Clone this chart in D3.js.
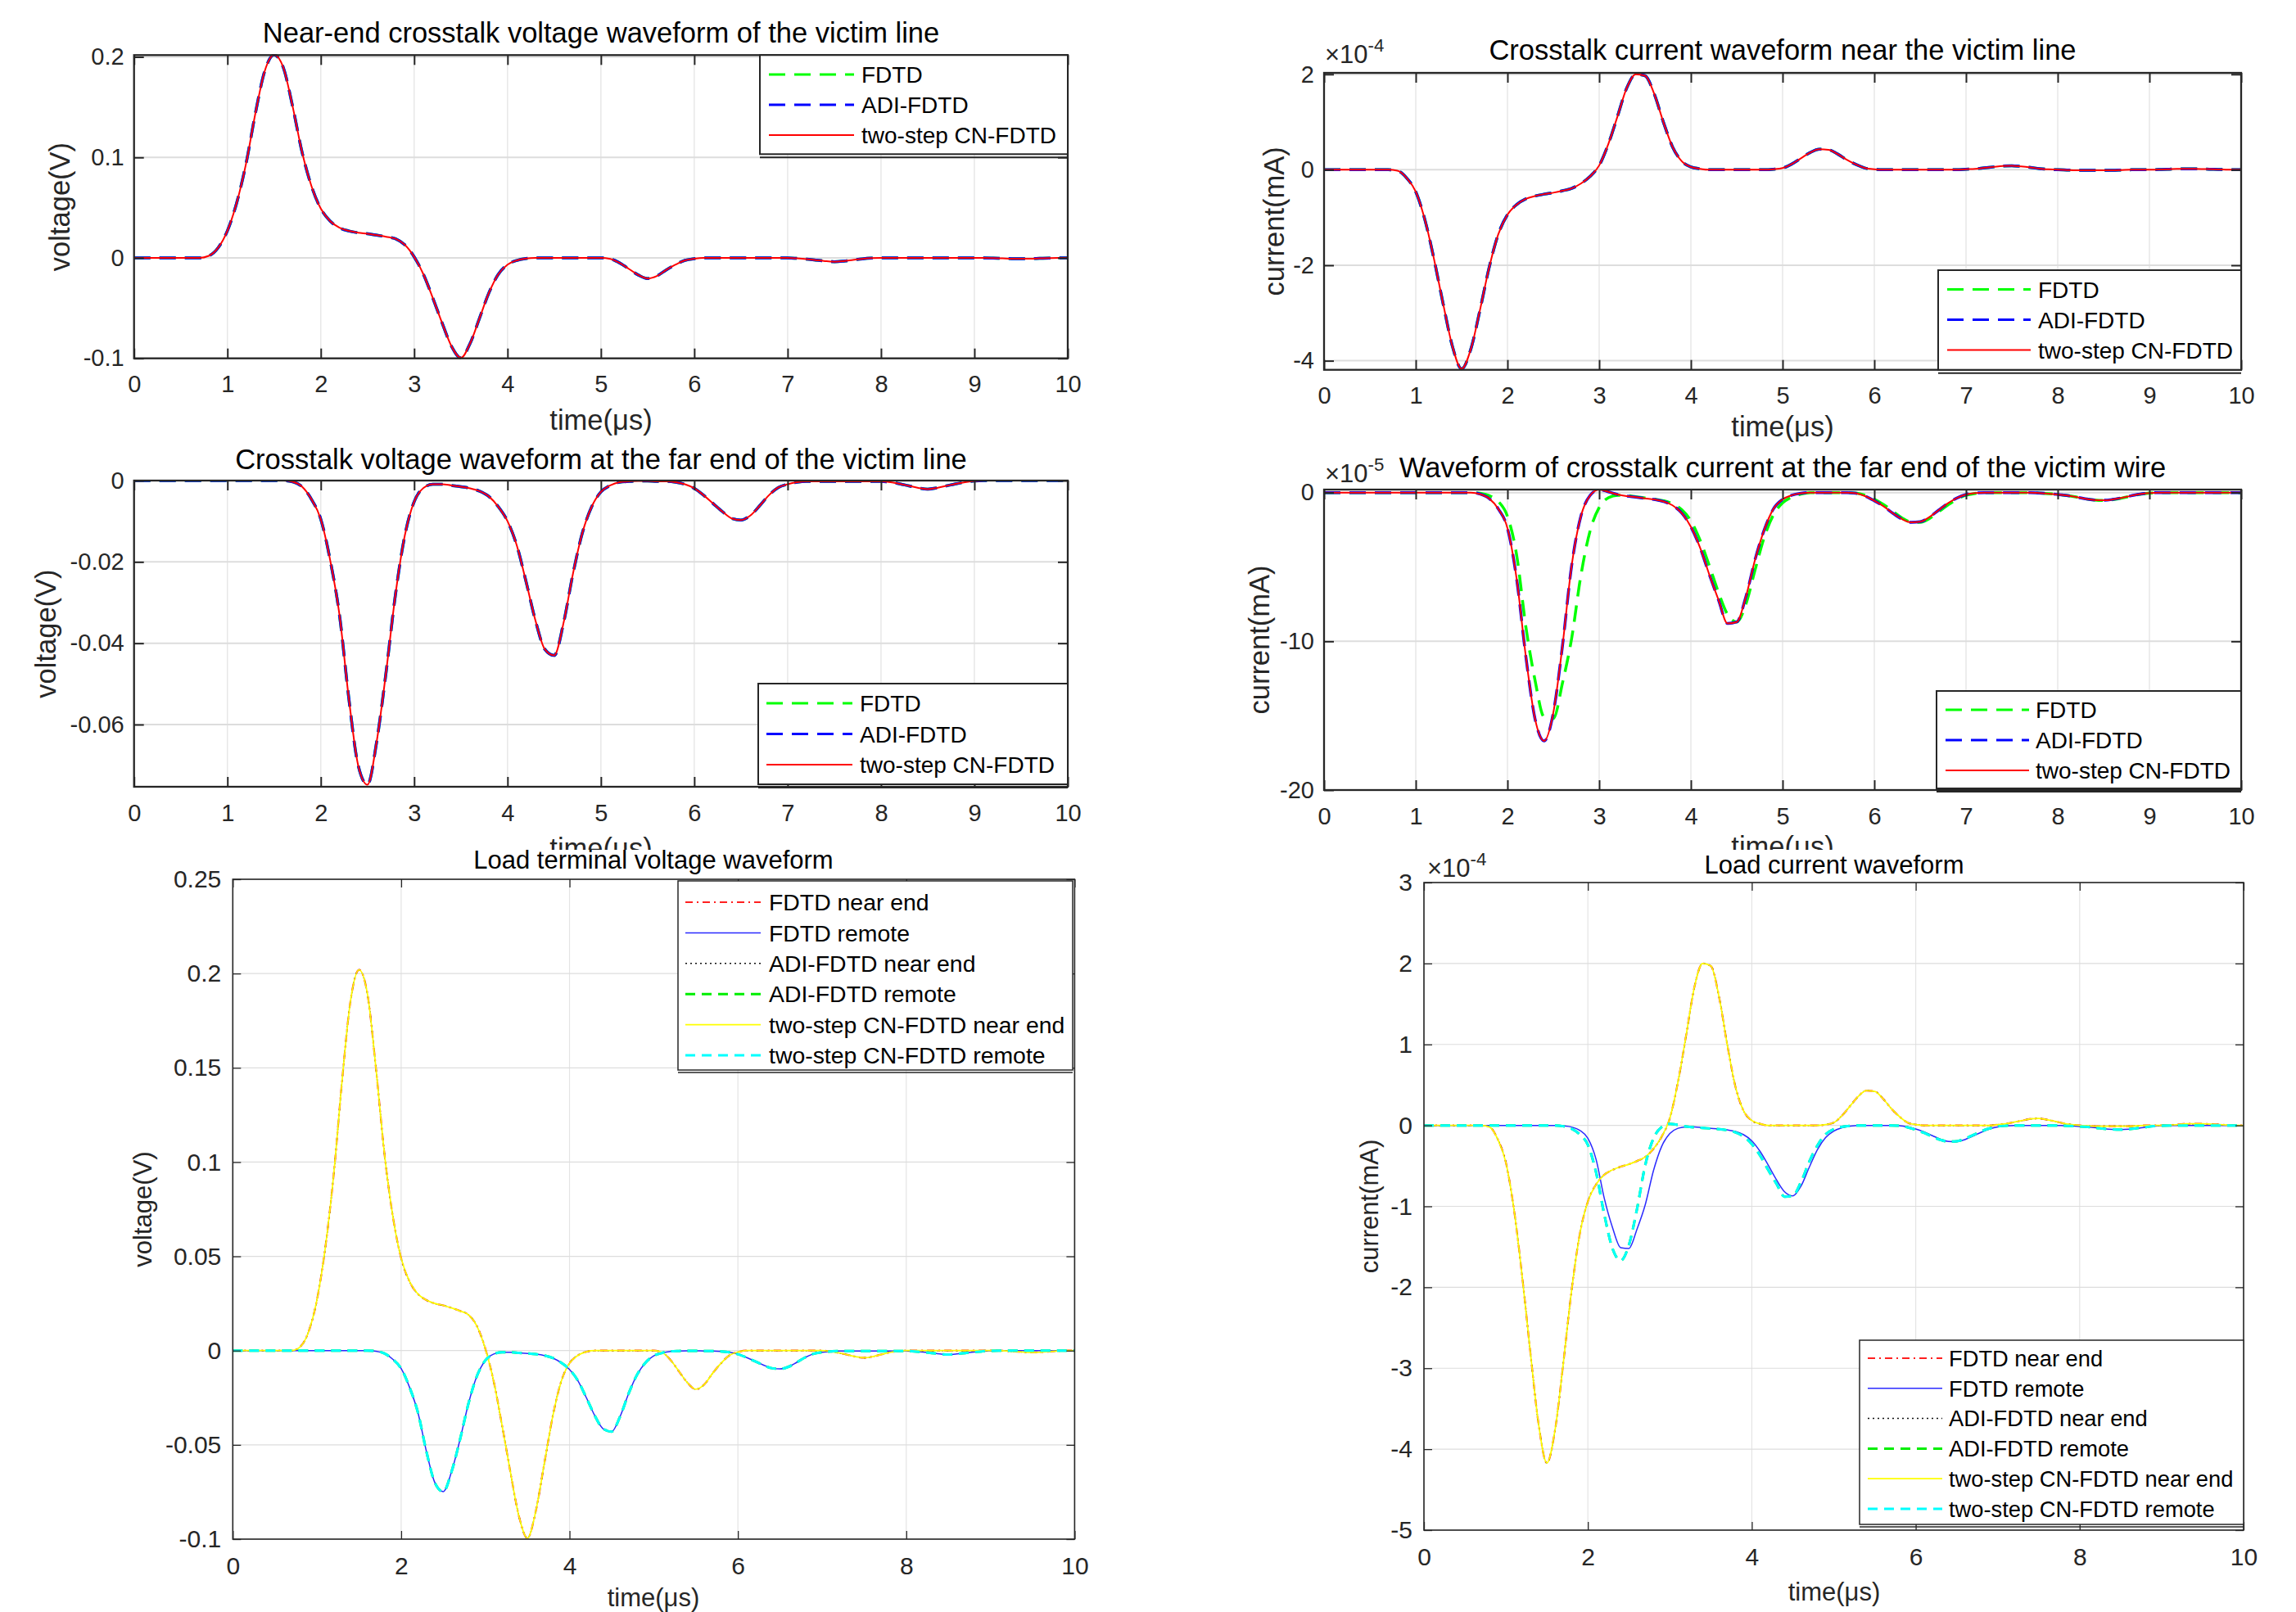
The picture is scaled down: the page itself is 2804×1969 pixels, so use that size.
<!DOCTYPE html>
<html lang="en">

<head>
  <meta charset="UTF-8" />
  <title>crosstalk waveforms</title>
  <style>
    body {
      margin: 0;
      background: #fff;
    }

    svg {
      display: block;
    }
  </style>
</head>

<body>
  <div id="container"></div>
  <script src="https://cdn.jsdelivr.net/npm/d3@7"></script>
  <script>
    // sample times (μs)
    const time = [
      0, 0.1, 0.2, 0.3, 0.4, 0.5, 0.6, 0.7, 0.8, 0.9,
      1, 1.1, 1.2, 1.3, 1.4, 1.5, 1.6, 1.7, 1.8, 1.9,
      2, 2.1, 2.2, 2.3, 2.4, 2.5, 2.6, 2.7, 2.8, 2.9,
      3, 3.1, 3.2, 3.3, 3.4, 3.5, 3.6, 3.7, 3.8, 3.9,
      4, 4.1, 4.2, 4.3, 4.4, 4.5, 4.6, 4.7, 4.8, 4.9,
      5, 5.1, 5.2, 5.3, 5.4, 5.5, 5.6, 5.7, 5.8, 5.9,
      6, 6.1, 6.2, 6.3, 6.4, 6.5, 6.6, 6.7, 6.8, 6.9,
      7, 7.1, 7.2, 7.3, 7.4, 7.5, 7.6, 7.7, 7.8, 7.9,
      8, 8.1, 8.2, 8.3, 8.4, 8.5, 8.6, 8.7, 8.8, 8.9,
      9, 9.1, 9.2, 9.3, 9.4, 9.5, 9.6, 9.7, 9.8, 9.9,
      10
    ];

    // near-end crosstalk voltage (V)
    const nearVoltage = [
      0, 0, 0, 0, 0, 0, 0, 0, 0.002, 0.010,
      0.027, 0.055, 0.094, 0.144, 0.186, 0.202, 0.189, 0.150, 0.105, 0.0715,
      0.049, 0.0366, 0.030, 0.0268, 0.025, 0.024, 0.0226, 0.021, 0.019, 0.013,
      0.001, -0.0165, -0.040, -0.065, -0.088, -0.0995, -0.085, -0.060, -0.035, -0.0165,
      -0.0067, -0.0025, -0.0006, 0, 0, 0, 0, 0, 0, 0,
      0, -0.001, -0.005, -0.011, -0.017, -0.0205, -0.018, -0.012, -0.0067, -0.0025,
      -0.0008, 0, 0, 0, 0, 0, 0, 0, 0, 0,
      0, -0.0005, -0.0012, -0.0022, -0.0032, -0.0038, -0.0032, -0.0021, -0.001, -0.0003,
      0, 0, 0, 0, 0, 0, 0, 0, 0, 0,
      0, 0, -0.0002, -0.0005, -0.0008, -0.0009, -0.0008, -0.0005, -0.0002, 0,
      0
    ];

    // far-end crosstalk voltage (V)
    const farVoltage = [
      0, 0, 0, 0, 0, 0, 0, 0, 0, 0,
      0, 0, 0, 0, 0, 0, 0, -0.0003, -0.0015, -0.0046,
      -0.0095, -0.0195, -0.033, -0.0535, -0.070, -0.0748, -0.064, -0.047, -0.028, -0.0135,
      -0.0052, -0.0018, -0.0009, -0.0009, -0.0012, -0.0015, -0.0019, -0.0026, -0.0039, -0.0064,
      -0.0100, -0.0160, -0.0250, -0.0345, -0.0415, -0.0430, -0.0350, -0.0230, -0.0130, -0.0065,
      -0.0028, -0.0012, -0.0004, -0.0002, -0.0001, -0.0001, -0.0002, -0.0002, -0.0004, -0.0009,
      -0.0019, -0.0036, -0.0056, -0.0076, -0.0093, -0.0097, -0.0086, -0.0062, -0.0036, -0.0017,
      -0.0009, -0.0004, -0.0002, -0.0002, -0.0002, -0.0002, -0.0002, -0.0002, -0.0002, -0.0002,
      -0.0002, -0.0004, -0.0008, -0.0013, -0.0018, -0.0021, -0.0018, -0.0013, -0.0008, -0.0004,
      -0.0001, 0, 0, 0, 0, 0, 0, 0, 0, 0,
      0
    ];

    // near-end crosstalk current (x1e-4 mA)
    const nearCurrent = [
      0, 0, 0, 0, 0, 0, 0, 0, -0.02, -0.17,
      -0.46, -1.05, -1.88, -2.82, -3.7, -4.17, -3.76, -2.94, -2.05, -1.35,
      -0.94, -0.73, -0.61, -0.55, -0.51, -0.48, -0.44, -0.39, -0.29, -0.14,
      0.09, 0.54, 1.12, 1.71, 2.0, 1.97, 1.59, 1.0, 0.48, 0.18,
      0.06, 0.02, 0, 0, 0, 0, 0, 0, 0, 0.01,
      0.035, 0.12, 0.24, 0.36, 0.43, 0.42, 0.33, 0.21, 0.11, 0.035,
      0.01, 0, 0, 0, 0, 0, 0, 0, 0, 0,
      0.01, 0.02, 0.04, 0.06, 0.08, 0.085, 0.07, 0.05, 0.025, 0.01,
      0, -0.005, -0.01, -0.01, -0.01, -0.01, -0.01, -0.005, 0, 0,
      0, 0.005, 0.01, 0.02, 0.02, 0.02, 0.015, 0.01, 0.005, 0,
      0
    ];

    // far-end crosstalk current, ADI-FDTD / two-step CN-FDTD (x1e-5 mA)
    const farCurrent = [
      0, 0, 0, 0, 0, 0, 0, 0, 0, 0,
      0, 0, 0, 0, 0, 0, 0, -0.1, -0.4, -1.1,
      -2.4, -5.8, -11.0, -15.2, -16.7, -14.8, -10.3, -4.9, -1.6, -0.2,
      0.2, 0.05, -0.13, -0.24, -0.31, -0.39, -0.46, -0.6, -0.86, -1.38,
      -2.3, -3.7, -5.5, -7.2, -8.8, -8.7, -7.0, -4.5, -2.5, -1.1,
      -0.46, -0.18, -0.05, 0, 0, 0, 0, 0, -0.05, -0.24,
      -0.55, -0.92, -1.38, -1.78, -2.0, -1.96, -1.65, -1.19, -0.73, -0.37,
      -0.13, -0.04, 0, 0, 0, 0, 0, 0, -0.03, -0.07,
      -0.13, -0.2, -0.3, -0.42, -0.5, -0.52, -0.46, -0.35, -0.22, -0.1,
      -0.03, 0, 0, 0, 0, 0, 0, 0, 0, 0,
      0
    ];

    // far-end crosstalk current, FDTD (x1e-5 mA)
    const farCurrentFDTD = [
      0, 0, 0, 0, 0, 0, 0, 0, 0, 0,
      0, 0, 0, 0, 0, 0, 0, -0.05, -0.2, -0.6,
      -1.6, -4.2, -9.0, -12.6, -15.1, -15.2, -12.8, -9.8, -5.6, -2.6,
      -1.0, -0.35, -0.18, -0.2, -0.28, -0.36, -0.44, -0.55, -0.75, -1.15,
      -1.9, -3.2, -4.9, -6.7, -8.2, -8.7, -7.5, -5.2, -3.0, -1.5,
      -0.7, -0.3, -0.1, 0, 0, 0, 0, 0, -0.03, -0.18,
      -0.45, -0.8, -1.25, -1.7, -1.98, -2.0, -1.75, -1.3, -0.85, -0.45,
      -0.18, -0.06, 0, 0, 0, 0, 0, 0, -0.03, -0.07,
      -0.13, -0.2, -0.3, -0.42, -0.5, -0.53, -0.48, -0.37, -0.24, -0.12,
      -0.04, 0, 0, 0, 0, 0, 0, 0, 0, 0,
      0
    ];

    const xTicksTop = [0, 1, 2, 3, 4, 5, 6, 7, 8, 9, 10];
    const xTicksBottom = [0, 2, 4, 6, 8, 10];
    const yTicksNearV = [-0.1, 0, 0.1, 0.2];
    const yTicksNearI = [-4, -2, 0, 2];
    const yTicksFarV = [-0.06, -0.04, -0.02, 0];
    const yTicksFarI = [-20, -10, 0];
    const yTicksLoadV = [-0.1, -0.05, 0, 0.05, 0.1, 0.15, 0.2, 0.25];
    const yTicksLoadI = [-5, -4, -3, -2, -1, 0, 1, 2, 3];

    const methodNames = ['FDTD', 'ADI-FDTD', 'two-step CN-FDTD'];
    const loadNames = ['FDTD near end', 'FDTD remote', 'ADI-FDTD near end', 'ADI-FDTD remote',
      'two-step CN-FDTD near end', 'two-step CN-FDTD remote'];

    const FONT = '"Liberation Sans", Arial, Helvetica, sans-serif';
    const INK = '#262626';

    const methodStyles = [
      { color: '#00ff00', width: 3.5, dash: '20,11' },
      { color: '#0000ff', width: 3.5, dash: '20,11' },
      { color: '#ff0000', width: 2, dash: null }
    ];
    const loadStyles = [
      { color: '#ff2020', width: 2.2, dash: '9,5,2,5' },
      { color: '#2a2aff', width: 1.5, dash: null },
      { color: '#111111', width: 1.5, dash: '2,4' },
      { color: '#00ee00', width: 3, dash: '12,8' },
      { color: '#ffff00', width: 1.7, dash: null },
      { color: '#00ffff', width: 3, dash: '12,8' }
    ];

    const topLook = { title: 34.5, label: 34.5, tick: 29, legend: 28, expo: 31, tickLen: 12, tickW: 2, box: 2.3,
      gridH: 2, gridV: 1.3, xPad: 21, yPad: 12, legendW: 2, shadow: 4 };
    const bottomLook = { title: 31, label: 31, tick: 30, legend: 28.4, expo: 31, tickLen: 10, tickW: 1.3, box: 1.6,
      gridH: 1.2, gridV: 1.2, xPad: 22, yPad: 14, legendW: 1.5, shadow: 3 };

    const svg = d3.select('#container').append('svg').attr('width', 2804).attr('height', 1969)
      .attr('font-family', FONT);

    // the lower pair of plots is pasted over the upper x labels
    svg.append('clipPath').attr('id', 'clip-upper').append('rect')
      .attr('x', 0).attr('y', 0).attr('width', 2804).attr('height', 1038);

    function drawPanel(p) {
      const s = p.look;
      const g = svg.append('g');
      const x = d3.scaleLinear().domain([0, 10]).range([p.box.l, p.box.r]);
      const y = d3.scaleLinear().domain(p.yDomain).range([p.box.b, p.box.t]);

      // grid
      g.append('g').selectAll('line').data(p.xTicks).join('line')
        .attr('x1', d => x(d)).attr('x2', d => x(d)).attr('y1', p.box.t).attr('y2', p.box.b)
        .attr('stroke', '#e4e4e4').attr('stroke-width', s.gridV);
      g.append('g').selectAll('line').data(p.yTicks).join('line')
        .attr('x1', p.box.l).attr('x2', p.box.r).attr('y1', d => y(d)).attr('y2', d => y(d))
        .attr('stroke', '#dddddd').attr('stroke-width', s.gridH);

      svg.append('clipPath').attr('id', 'clip-' + p.id).append('rect')
        .attr('x', p.box.l).attr('y', p.box.t - 1)
        .attr('width', p.box.r - p.box.l).attr('height', p.box.b - p.box.t + 2);

      const line = d3.line().x((d, i) => x(time[i])).y(d => y(d)).curve(d3.curveMonotoneX);
      g.append('g').attr('clip-path', `url(#clip-${p.id})`)
        .selectAll('path').data(p.series).join('path')
        .attr('d', d => line(d.values))
        .attr('fill', 'none')
        .attr('stroke', d => d.style.color)
        .attr('stroke-width', d => d.style.width)
        .attr('stroke-dasharray', d => d.style.dash)
        .attr('stroke-linejoin', 'round');

      // axes, ticks inward on all four sides
      const fmt = d => String(d);
      const styleAxis = (sel, labels) => {
        sel.select('.domain').remove();
        sel.attr('font-family', FONT).attr('font-size', s.tick).attr('color', INK);
        sel.selectAll('.tick line').attr('stroke-width', s.tickW);
        if (!labels) sel.selectAll('.tick text').remove();
      };
      g.append('g').attr('transform', `translate(0,${p.box.b})`)
        .call(d3.axisBottom(x).tickValues(p.xTicks).tickSizeInner(-s.tickLen).tickSizeOuter(0)
          .tickPadding(s.xPad).tickFormat(fmt))
        .call(sel => styleAxis(sel, true));
      g.append('g').attr('transform', `translate(0,${p.box.t})`)
        .call(d3.axisTop(x).tickValues(p.xTicks).tickSizeInner(-s.tickLen).tickSizeOuter(0))
        .call(sel => styleAxis(sel, false));
      g.append('g').attr('transform', `translate(${p.box.l},0)`)
        .call(d3.axisLeft(y).tickValues(p.yTicks).tickSizeInner(-s.tickLen).tickSizeOuter(0)
          .tickPadding(s.yPad).tickFormat(fmt))
        .call(sel => styleAxis(sel, true));
      g.append('g').attr('transform', `translate(${p.box.r},0)`)
        .call(d3.axisRight(y).tickValues(p.yTicks).tickSizeInner(-s.tickLen).tickSizeOuter(0))
        .call(sel => styleAxis(sel, false));

      g.append('rect')
        .attr('x', p.box.l).attr('y', p.box.t)
        .attr('width', p.box.r - p.box.l).attr('height', p.box.b - p.box.t)
        .attr('fill', 'none').attr('stroke', INK).attr('stroke-width', s.box);

      // legend
      const L = p.legend;
      const lg = g.append('g').attr('transform', `translate(${L.x},${L.y})`);
      lg.append('rect').attr('width', L.w).attr('height', L.h)
        .attr('fill', '#fff').attr('stroke', INK).attr('stroke-width', s.legendW);
      lg.append('line').attr('x1', 0).attr('x2', L.w).attr('y1', L.h + s.shadow).attr('y2', L.h + s.shadow)
        .attr('stroke', INK).attr('stroke-width', s.legendW);
      p.series.forEach((d, i) => {
        const ry = L.row0 - L.y + i * L.step;
        lg.append('line')
          .attr('x1', L.s0).attr('x2', L.s1).attr('y1', ry).attr('y2', ry)
          .attr('stroke', d.style.color).attr('stroke-width', Math.min(d.style.width, 3))
          .attr('stroke-dasharray', d.style.dash);
        lg.append('text')
          .attr('x', L.tx).attr('y', ry).attr('dy', '0.36em')
          .attr('font-size', L.font || s.legend).attr('fill', '#000')
          .text(d.name);
      });

      // texts
      g.append('text').attr('x', p.title[0]).attr('y', p.title[1])
        .attr('text-anchor', 'middle').attr('font-size', s.title).attr('fill', '#000')
        .text(p.title[2]);
      const xl = g.append('text').attr('x', p.xlabel[0]).attr('y', p.xlabel[1])
        .attr('text-anchor', 'middle').attr('font-size', s.label).attr('fill', INK)
        .text('time(μs)');
      if (p.xlabelCut) xl.attr('clip-path', 'url(#clip-upper)');
      g.append('text')
        .attr('transform', `translate(${p.ylabel[0]},${(p.box.t + p.box.b) / 2}) rotate(-90)`)
        .attr('dy', '0.35em')
        .attr('text-anchor', 'middle').attr('font-size', s.label).attr('fill', INK)
        .text(p.ylabel[1]);

      if (p.exponent) {
        const t = g.append('text').attr('x', p.exponent[0]).attr('y', p.exponent[1])
          .attr('font-size', s.expo).attr('fill', INK);
        t.append('tspan').text('×10');
        t.append('tspan').attr('dy', -s.expo * 0.45).attr('font-size', s.expo * 0.72).text(p.exponent[2]);
      }
    }

    const methodSeries = arrays => arrays.map((values, i) => ({
      name: methodNames[i], values, style: methodStyles[i]
    }));
    const loadSeries = arrays => arrays.map((values, i) => ({
      name: loadNames[i], values, style: loadStyles[i]
    }));

    drawPanel({
      id: 'nv', look: topLook,
      box: { l: 163.7, t: 67.3, r: 1304, b: 437.7 },
      yDomain: [-0.1, 0.2018], yTicks: yTicksNearV, xTicks: xTicksTop,
      series: methodSeries([nearVoltage, nearVoltage, nearVoltage]),
      legend: { x: 928, y: 67.3, w: 376, h: 121, row0: 91, step: 37, s0: 11, s1: 115, tx: 124 },
      title: [734, 52, 'Near-end crosstalk voltage waveform of the victim line'],
      xlabel: [734, 525], ylabel: [73, 'voltage(V)']
    });

    drawPanel({
      id: 'ni', look: topLook,
      box: { l: 1617, t: 89, r: 2737, b: 451.7 },
      yDomain: [-4.19, 2.03], yTicks: yTicksNearI, xTicks: xTicksTop,
      series: methodSeries([nearCurrent, nearCurrent, nearCurrent]),
      legend: { x: 2367, y: 330, w: 370, h: 121.7, row0: 353.6, step: 37, s0: 11, s1: 113, tx: 122 },
      title: [2177, 73, 'Crosstalk current waveform near the victim line'],
      xlabel: [2177, 533], ylabel: [1556, 'current(mA)'],
      exponent: [1618, 77, '-4']
    });

    drawPanel({
      id: 'fv', look: topLook,
      box: { l: 163.7, t: 587, r: 1304, b: 961 },
      yDomain: [-0.0753, 0], yTicks: yTicksFarV, xTicks: xTicksTop,
      series: methodSeries([farVoltage, farVoltage, farVoltage]),
      legend: { x: 926, y: 835, w: 378, h: 123, row0: 859, step: 37.5, s0: 10, s1: 115, tx: 124 },
      title: [734, 572.5, 'Crosstalk voltage waveform at the far end of the victim line'],
      xlabel: [734, 1048], xlabelCut: true, ylabel: [56, 'voltage(V)']
    });

    drawPanel({
      id: 'fi', look: topLook,
      box: { l: 1617, t: 598, r: 2737, b: 965 },
      yDomain: [-20, 0.2], yTicks: yTicksFarI, xTicks: xTicksTop,
      series: methodSeries([farCurrentFDTD, farCurrent, farCurrent]),
      legend: { x: 2365, y: 844, w: 372, h: 119, row0: 867, step: 37, s0: 11, s1: 113, tx: 121 },
      title: [2177, 583, 'Waveform of crosstalk current at the far end of the victim wire'],
      xlabel: [2177, 1046], xlabelCut: true, ylabel: [1538, 'current(mA)'],
      exponent: [1618, 589, '-5']
    });

    svg.append('rect').attr('x', 0).attr('y', 1038).attr('width', 2804).attr('height', 931).attr('fill', '#fff');

    drawPanel({
      id: 'lv', look: bottomLook,
      box: { l: 284.3, t: 1074, r: 1312.4, b: 1880 },
      yDomain: [-0.1, 0.25], yTicks: yTicksLoadV, xTicks: xTicksBottom,
      series: loadSeries([nearVoltage, farVoltage, nearVoltage, farVoltage, nearVoltage, farVoltage]),
      legend: { x: 828, y: 1076, w: 482, h: 231, row0: 1102, step: 37.4, s0: 9, s1: 101, tx: 111 },
      title: [798, 1061, 'Load terminal voltage waveform'],
      xlabel: [798, 1962], ylabel: [174, 'voltage(V)']
    });

    // far-end current converted from x1e-5 to x1e-4 for this axis
    const farCurrentFDTD4 = farCurrentFDTD.map(v => v / 10);
    const farCurrent4 = farCurrent.map(v => v / 10);

    drawPanel({
      id: 'li', look: bottomLook,
      box: { l: 1739, t: 1078, r: 2740, b: 1869 },
      yDomain: [-5, 3], yTicks: yTicksLoadI, xTicks: xTicksBottom,
      series: loadSeries([nearCurrent, farCurrentFDTD4, nearCurrent, farCurrent4, nearCurrent, farCurrent4]),
      legend: { x: 2271, y: 1637, w: 469, h: 225, row0: 1659, step: 36.8, s0: 10, s1: 101, tx: 109, font: 27.3 },
      title: [2240, 1067, 'Load current waveform'],
      xlabel: [2240, 1955], ylabel: [1672, 'current(mA)'],
      exponent: [1743, 1071, '-4']
    });
  </script>
</body>

</html>
